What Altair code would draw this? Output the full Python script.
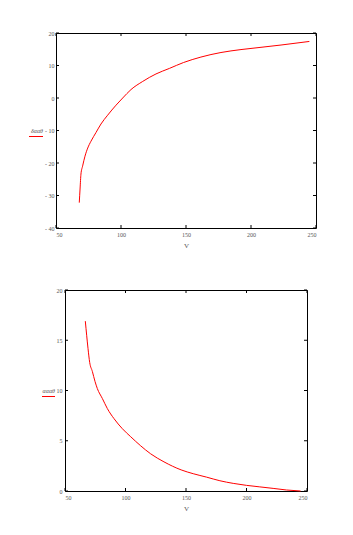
import altair as alt
import pandas as pd

# Top panel data
v_top = [67.9, 68.5, 69.2, 70.5, 72.3, 74.4, 76.9, 80.8, 84.6, 89.7, 96.2, 101.3, 107.7, 116.7, 126.9, 137.2, 148.0, 161.5, 176.9, 192.3, 207.7, 223.1, 244.9]
y_top = [-32.2, -28.0, -23.4, -20.9, -17.9, -15.4, -13.3, -10.6, -8.0, -5.3, -2.2, 0.0, 2.6, 5.1, 7.4, 9.1, 10.9, 12.6, 14.0, 14.9, 15.6, 16.3, 17.4]

# Bottom panel data
v_bot = [66.8, 67.9, 69.0, 70.4, 72.6, 74.8, 76.7, 80.9, 85.0, 90.5, 97.4, 104.3, 112.5, 120.8, 131.8, 146.0, 156.0, 167.0, 178.0, 189.0, 200.0, 211.0, 222.0, 233.0, 244.7]
y_bot = [16.9, 15.5, 14.2, 12.8, 11.9, 10.9, 10.2, 9.2, 8.2, 7.2, 6.2, 5.4, 4.5, 3.7, 2.9, 2.1, 1.72, 1.38, 1.02, 0.76, 0.56, 0.41, 0.26, 0.1, 0.0]

x_ticks = [50, 100, 150, 200, 250]
y_ticks_top = [-40, -30, -20, -10, 0, 10, 20]
y_ticks_bot = [0, 5, 10, 15, 20]

label_top = "δααθ"
label_bot = "αααθ"

FONT = "Liberation Serif"
GRAY = "#555555"
RED = "#ff0000"
TICK = 3

label_expr = "datum.value < 0 ? '- ' + abs(datum.value) : datum.value"


def panel(v, y, yticks, ydom, w, h, ylabel, lab_val, lab_x, line_x, line_x2, lab_pad):
    df = pd.DataFrame({"V": v, "Y": y})
    xs = alt.Scale(domain=[x_ticks[0], x_ticks[-1]], nice=False)
    ys = alt.Scale(domain=ydom, nice=False)
    xax = alt.Axis(values=x_ticks, title="V", ticks=False, domain=False, grid=False,
                   labelFont=FONT, labelFontSize=6, labelColor=GRAY, labelPadding=3,
                   labelOverlap=False,
                   titleFont=FONT, titleFontSize=7, titleColor=GRAY, titleFontWeight="normal",
                   titlePadding=4)
    yax = alt.Axis(values=yticks, title=None, ticks=False, domain=False, grid=False,
                   labelFont=FONT, labelFontSize=6, labelColor=GRAY, labelPadding=lab_pad,
                   labelOverlap=False, labelExpr=label_expr)
    line = alt.Chart(df).mark_line(color=RED, strokeWidth=1, interpolate="monotone").encode(
        x=alt.X("V:Q", scale=xs, axis=xax),
        y=alt.Y("Y:Q", scale=ys, axis=yax),
    )
    tdf = pd.DataFrame({"t": yticks})
    tick_l = alt.Chart(tdf).mark_rule(color="black", strokeWidth=1).encode(
        y=alt.Y("t:Q", scale=ys, axis=yax), x=alt.value(0), x2=alt.value(TICK))
    tick_r = alt.Chart(tdf).mark_rule(color="black", strokeWidth=1).encode(
        y=alt.Y("t:Q", scale=ys, axis=yax), x=alt.value(w - TICK), x2=alt.value(w))
    xdf = pd.DataFrame({"t": x_ticks})
    tick_t = alt.Chart(xdf).mark_rule(color="black", strokeWidth=1).encode(
        x=alt.X("t:Q", scale=xs, axis=xax), y=alt.value(0), y2=alt.value(TICK))
    tick_b = alt.Chart(xdf).mark_rule(color="black", strokeWidth=1).encode(
        x=alt.X("t:Q", scale=xs, axis=xax), y=alt.value(h - TICK), y2=alt.value(h))
    txt = alt.Chart(pd.DataFrame({"a": [0]})).mark_text(
        font=FONT, fontSize=6, color=GRAY, align="right", baseline="middle", fontStyle="italic"
    ).encode(x=alt.value(lab_x), y=alt.datum(lab_val, scale=ys, axis=yax), text=alt.value(ylabel))
    red = alt.Chart(pd.DataFrame({"a": [0]})).mark_rule(color=RED, strokeWidth=1, yOffset=6).encode(
        x=alt.value(line_x), x2=alt.value(line_x2), y=alt.datum(lab_val, scale=ys, axis=yax))
    return alt.layer(line, tick_l, tick_r, tick_t, tick_b, txt, red).properties(width=w, height=h)


top = panel(v_top, y_top, y_ticks_top, [-40, 20], 260, 195, label_top, -10, -13, -27, -13, 2)
bot = panel(v_bot, y_bot, y_ticks_bot, [0, 20], 242, 201, label_bot, 10, -10, -23, -10, 3)

chart = alt.vconcat(top, bot, spacing=37, center=True).properties(
    padding={"left": 28, "top": 29, "right": 5, "bottom": 5},
    background="white",
).configure_view(stroke="black", strokeWidth=1)

chart.save("out.html", embed_options={"renderer": "svg", "actions": False})
